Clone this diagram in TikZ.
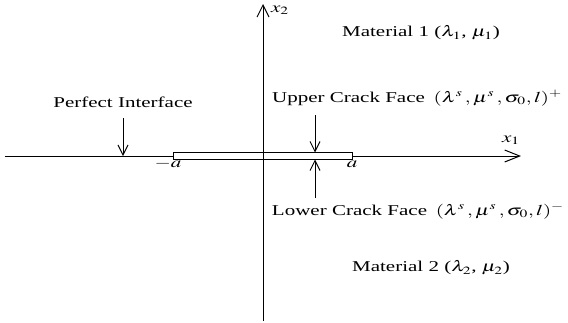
\documentclass[tikz,border=0pt]{standalone}
\usepackage{mathptmx}
\usepackage[no-math]{fontspec}
\setmainfont{Liberation Serif}
\usepackage{graphicx}
\usetikzlibrary{arrows.meta}
\newcommand{\hs}[1]{\scalebox{1.4}[1]{#1}}
\begin{document}
\begin{tikzpicture}[x=1pt,y=-1pt,
  lbl/.style={font=\fontsize{15}{18}\selectfont, inner sep=0pt},
  axisx/.style={line width=1pt, -{Straight Barb[length=15pt,width=12pt]}},
  axisy/.style={line width=1pt, -{Straight Barb[length=12pt,width=12pt]}},
  ptr/.style={line width=1pt, -{Straight Barb[length=10pt,width=10pt]}},
  crack/.style={line width=1pt, draw=black, fill=white}]
\useasboundingbox (0,0) rectangle (568,322);
% axes
\coordinate (xl) at (5,156);
\coordinate (xr) at (521,156);
\coordinate (yt) at (263,4);
\coordinate (yb) at (263,321);
\draw[axisx] (xl) -- (xr);
\draw[crack] (173,152.5) rectangle (352,159.5);
\draw[axisy] (yb) -- (yt);
% axis labels
\node[lbl] (x1) at (511,140) {\hs{$x_1$}};
\node[lbl] (x2) at (280,10) {\hs{$x_2$}};
\node[lbl] (ma) at (168,164) {\hs{$-a$}};
\node[lbl] (pa) at (352,164) {\hs{$a$}};
% labels
\node[lbl] (m1) at (421,33) {\hs{Material 1 ($\lambda_1$, $\mu_1$)}};
\node[lbl] (m2) at (431,268) {\hs{Material 2 ($\lambda_2$, $\mu_2$)}};
\node[lbl] (pi) at (123,102) {\hs{Perfect Interface}};
\node[lbl] (uc) at (417,98) {\hs{Upper Crack Face\, $(\lambda^{s}\,, \mu^{s}\,, \sigma_0, l)^{+}$}};
\node[lbl] (lc) at (418,211) {\hs{Lower Crack Face\, $(\lambda^{s}\,, \mu^{s}\,, \sigma_0, l)^{-}$}};
% pointer arrows
\coordinate (pis) at (123,118);
\coordinate (pie) at (123,156);
\coordinate (ucs) at (315,115);
\coordinate (uce) at (315,152.5);
\coordinate (lcs) at (315,198);
\coordinate (lce) at (315,159.5);
\draw[ptr] (pis) -- (pie);
\draw[ptr] (ucs) -- (uce);
\draw[ptr] (lcs) -- (lce);
\end{tikzpicture}
\end{document}
